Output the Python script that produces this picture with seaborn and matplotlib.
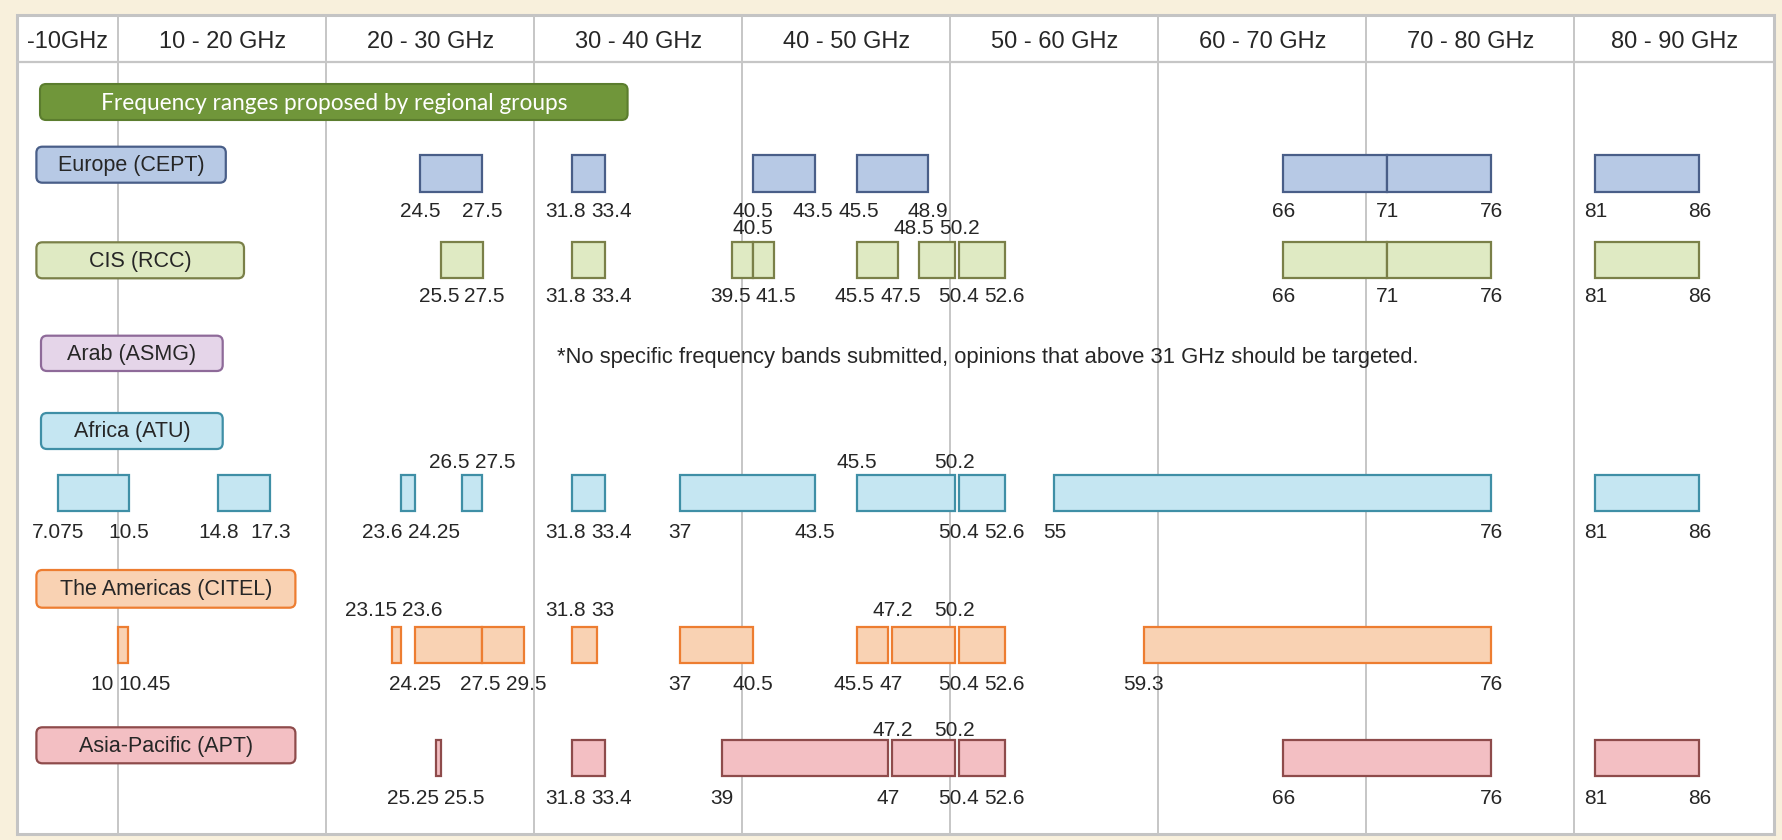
import numpy as np
import matplotlib
matplotlib.use("Agg")
import matplotlib.pyplot as plt
import matplotlib.transforms as mtransforms
from matplotlib.patches import FancyBboxPatch, Rectangle
import seaborn as sns

# ------------------------------------------------------------------ data
header_labels = ["-10GHz", "10 - 20 GHz", "20 - 30 GHz", "30 - 40 GHz", "40 - 50 GHz",
                 "50 - 60 GHz", "60 - 70 GHz", "70 - 80 GHz", "80 - 90 GHz"]
grid_ghz = [10, 20, 30, 40, 50, 60, 70, 80]
title_text = "Frequency ranges proposed by regional groups"
region_names = ["Europe (CEPT)", "CIS (RCC)", "Arab (ASMG)", "Africa (ATU)",
                "The Americas (CITEL)", "Asia-Pacific (APT)"]
arab_note = "*No specific frequency bands submitted, opinions that above 31 GHz should be targeted."

europe_start = [24.5, 31.8, 40.5, 45.5, 66, 71, 81]
europe_end = [27.5, 33.4, 43.5, 48.9, 71, 76, 86]
europe_above = []
europe_below = [24.5, 27.5, 31.8, 33.4, 40.5, 43.5, 45.5, 48.9, 66, 71, 76, 81, 86]

cis_start = [25.5, 31.8, 39.5, 40.5, 45.5, 48.5, 50.4, 66, 71, 81]
cis_end = [27.5, 33.4, 40.5, 41.5, 47.5, 50.2, 52.6, 71, 76, 86]
cis_above = [40.5, 48.5, 50.2]
cis_below = [25.5, 27.5, 31.8, 33.4, 39.5, 41.5, 45.5, 47.5, 50.4, 52.6, 66, 71, 76, 81, 86]

arab_start = []
arab_end = []
arab_above = []
arab_below = []

africa_start = [7.075, 14.8, 23.6, 26.5, 31.8, 37, 45.5, 50.4, 55, 81]
africa_end = [10.5, 17.3, 24.25, 27.5, 33.4, 43.5, 50.2, 52.6, 76, 86]
africa_above = [26.5, 27.5, 45.5, 50.2]
africa_below = [7.075, 10.5, 14.8, 17.3, 23.6, 24.25, 31.8, 33.4, 37, 43.5, 50.4, 52.6, 55, 76, 81, 86]

americas_start = [10, 23.15, 24.25, 27.5, 31.8, 37, 45.5, 47.2, 50.4, 59.3]
americas_end = [10.45, 23.6, 27.5, 29.5, 33, 40.5, 47, 50.2, 52.6, 76]
americas_above = [23.15, 23.6, 31.8, 33, 47.2, 50.2]
americas_below = [10, 10.45, 24.25, 27.5, 29.5, 37, 40.5, 45.5, 47, 50.4, 52.6, 59.3, 76]

apt_start = [25.25, 31.8, 39, 47.2, 50.4, 66, 81]
apt_end = [25.5, 33.4, 47, 50.2, 52.6, 76, 86]
apt_above = [47.2, 50.2]
apt_below = [25.25, 25.5, 31.8, 33.4, 39, 47, 50.4, 52.6, 66, 76, 81, 86]

region_data = [
    (europe_start, europe_end, europe_above, europe_below),
    (cis_start, cis_end, cis_above, cis_below),
    (arab_start, arab_end, arab_above, arab_below),
    (africa_start, africa_end, africa_above, africa_below),
    (americas_start, americas_end, americas_above, americas_below),
    (apt_start, apt_end, apt_above, apt_below),
]

# ------------------------------------------------------------------ layout / style
W, H = 1783, 840
PX10, PXPG = 118.5, 20.8          # pixel of 10 GHz, pixels per GHz
PANEL = (17, 15, 1774, 834)       # left, top, right, bottom (pixels)
HEADER_Y = 62.3

# box (x0, y0, x1, y1), bar (y0, y1), above-label y, below-label y, fill, edge
row_layout = [
    dict(box=(36.4, 146.7, 225.8, 182.7), bar=(155.3, 191.7), above=None, below=211.5,
         fc="#b7c9e5", ec="#495e88"),
    dict(box=(36.4, 242.3, 244.0, 278.3), bar=(242.3, 278.0), above=228.8, below=296.0,
         fc="#dfeac3", ec="#7a8048"),
    dict(box=(41.0, 335.7, 222.7, 371.0), bar=None, above=None, below=None,
         fc="#e5d5e9", ec="#8e6a99"),
    dict(box=(41.0, 413.0, 222.7, 449.0), bar=(475.0, 510.7), above=463.0, below=533.0,
         fc="#c5e6f2", ec="#3f8fa6"),
    dict(box=(36.4, 570.0, 295.4, 607.7), bar=(626.7, 662.7), above=611.0, below=685.0,
         fc="#f9d2b3", ec="#ed7d31"),
    dict(box=(36.4, 727.3, 295.4, 763.3), bar=(740.0, 776.0), above=731.0, below=798.0,
         fc="#f3bfc3", ec="#8e4b4b"),
]
TXT = "#262626"
GRID = "#c6c6c6"

sns.set_theme(style="white")
plt.rcParams["font.family"] = ["Liberation Sans", "DejaVu Sans"]


def gx(px):
    return 10 + (px - PX10) / PXPG


fig = plt.figure(figsize=(W / 100, H / 100), dpi=100, facecolor="#f8f0dc")
ax = fig.add_axes([0, 0, 1, 1])
ax.set_xlim(gx(0), gx(W))
ax.set_ylim(H, 0)
ax.axis("off")
ax.set_facecolor("none")

# pixel transform (top-left origin)
pix = mtransforms.Affine2D().scale(1, -1).translate(0, H)

# panel
ax.add_patch(Rectangle((PANEL[0], PANEL[1]), PANEL[2] - PANEL[0], PANEL[3] - PANEL[1],
                       transform=pix, fc="white", ec="#c4c4c4", lw=2.2, zorder=0))
ax.plot([PANEL[0], PANEL[2]], [HEADER_Y, HEADER_Y], transform=pix, color=GRID, lw=1.6, zorder=1)
ax.vlines(grid_ghz, PANEL[1], PANEL[3], color=GRID, lw=1.4, zorder=1)

# header labels
bounds = [gx(PANEL[0])] + grid_ghz + [gx(PANEL[2])]
for i, lab in enumerate(header_labels):
    c = (bounds[i] + bounds[i + 1]) / 2
    ax.text(c, 42, lab, ha="center", va="center", fontsize=17, color=TXT, zorder=5)

# title bar
gb = (40, 84, 627.6, 120)
ax.add_patch(FancyBboxPatch((gb[0], gb[1]), gb[2] - gb[0], gb[3] - gb[1], transform=pix,
                            boxstyle="round,pad=0,rounding_size=6", fc="#70963a", ec="#5b7d2e",
                            lw=1.5, zorder=3))
ax.text((gb[0] + gb[2]) / 2, (gb[1] + gb[3]) / 2 + 1, title_text, transform=pix, ha="center",
        va="center", fontsize=16.3, color="white", family=["Lato", "DejaVu Sans"], zorder=4)

label_groups = []
for name, (starts, ends, above, below), lay in zip(region_names, region_data, row_layout):
    x0, y0, x1, y1 = lay["box"]
    ax.add_patch(FancyBboxPatch((x0, y0), x1 - x0, y1 - y0, transform=pix,
                                boxstyle="round,pad=0,rounding_size=6", fc=lay["fc"], ec=lay["ec"],
                                lw=1.6, zorder=3))
    ax.text((x0 + x1) / 2, (y0 + y1) / 2 + 1, name, transform=pix, ha="center", va="center",
            fontsize=15.5, color=TXT, zorder=4)
    if lay["bar"] is not None and len(starts):
        by0, by1 = lay["bar"]
        s = np.array(starts, dtype=float)
        e = np.array(ends, dtype=float)
        ax.barh(np.full(len(s), (by0 + by1) / 2), e - s, left=s, height=by1 - by0,
                color=lay["fc"], edgecolor=lay["ec"], linewidth=1.6, zorder=3)
    for vals, ypos in ((above, lay["above"]), (below, lay["below"])):
        if ypos is None or not vals:
            continue
        grp = [ax.text(v, ypos, f"{v:g}", ha="center", va="center", fontsize=15,
                       color=TXT, zorder=5) for v in vals]
        label_groups.append(grp)

ax.text(988, 357.5, arab_note, transform=pix, ha="center", va="center", fontsize=15.8,
        color=TXT, zorder=5)

# resolve horizontal overlaps of value labels
fig.canvas.draw()
rend = fig.canvas.get_renderer()
GAP = 5
for grp in label_groups:
    items = sorted(grp, key=lambda t: t.get_position()[0])
    xs = np.array([ax.transData.transform((t.get_position()[0], 0))[0] for t in items])
    ws = np.array([t.get_window_extent(rend).width for t in items])
    for _ in range(200):
        moved = False
        for i in range(len(xs) - 1):
            ov = (xs[i] + ws[i] / 2 + GAP) - (xs[i + 1] - ws[i + 1] / 2)
            if ov > 0.01:
                xs[i] -= ov / 2
                xs[i + 1] += ov / 2
                moved = True
        if not moved:
            break
    inv = ax.transData.inverted()
    for t, xd in zip(items, xs):
        t.set_x(inv.transform((xd, 0))[0])

fig.savefig("out.png", dpi=100, facecolor=fig.get_facecolor())
